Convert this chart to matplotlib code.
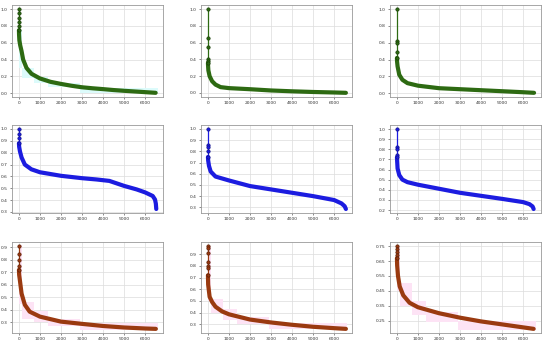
import matplotlib
matplotlib.use("Agg")
import matplotlib.pyplot as plt

# ---------------- data ----------------
# Row 1 (green)
g1_x = [0, 0, 0, 0, 0, 0, 5, 20, 60, 125, 200, 360, 600, 1000, 1500, 2000, 2500, 3000, 3500, 4000, 4500, 5000, 5500, 6000, 6500]
g1_y = [1.0, 0.95, 0.9, 0.85, 0.8, 0.75, 0.7, 0.63, 0.57, 0.50, 0.40, 0.30, 0.23, 0.175, 0.135, 0.11, 0.088, 0.07, 0.058, 0.048, 0.037, 0.028, 0.02, 0.012, 0.004]
g2_x = [0, 0, 0, 0, 0, 0, 5, 20, 80, 200, 360, 600, 1000, 2000, 3000, 4000, 5000, 6000, 6560]
g2_y = [1.0, 0.66, 0.55, 0.41, 0.38, 0.36, 0.33, 0.27, 0.2, 0.14, 0.1, 0.07, 0.058, 0.045, 0.03, 0.02, 0.012, 0.006, 0.002]
g3_x = [0, 0, 0, 0, 0, 5, 30, 110, 260, 500, 1000, 2000, 3000, 4000, 5000, 6000, 6520]
g3_y = [1.0, 0.62, 0.6, 0.49, 0.42, 0.38, 0.32, 0.22, 0.16, 0.12, 0.09, 0.06, 0.048, 0.036, 0.024, 0.012, 0.005]

# Row 2 (blue)
b1_x = [0, 0, 0, 0, 10, 50, 125, 280, 590, 1000, 2000, 3000, 3700, 4300, 5000, 5600, 6000, 6360, 6470, 6510, 6530]
b1_y = [1.0, 0.96, 0.92, 0.88, 0.85, 0.81, 0.76, 0.70, 0.66, 0.635, 0.605, 0.585, 0.574, 0.562, 0.52, 0.49, 0.465, 0.435, 0.405, 0.37, 0.325]
b2_x = [0, 0, 0, 0, 0, 10, 50, 130, 360, 1000, 2000, 3000, 4000, 5000, 6000, 6350, 6500, 6560]
b2_y = [1.0, 0.86, 0.84, 0.8, 0.75, 0.72, 0.67, 0.62, 0.575, 0.54, 0.49, 0.46, 0.43, 0.40, 0.365, 0.335, 0.31, 0.285]
b3_x = [0, 0, 0, 0, 0, 30, 110, 260, 500, 1000, 2000, 3000, 4000, 5000, 6000, 6300, 6450, 6500]
b3_y = [1.0, 0.82, 0.80, 0.74, 0.72, 0.61, 0.545, 0.50, 0.475, 0.45, 0.41, 0.37, 0.34, 0.31, 0.278, 0.258, 0.235, 0.21]

# Row 3 (brown)
r1_x = [0, 0, 0, 0, 0, 10, 50, 125, 280, 510, 1000, 2000, 3000, 4000, 5000, 6000, 6510]
r1_y = [0.91, 0.85, 0.80, 0.75, 0.72, 0.68, 0.63, 0.53, 0.44, 0.385, 0.345, 0.305, 0.287, 0.27, 0.258, 0.25, 0.247]
r2_x = [0, 0, 0, 0, 0, 0, 0, 10, 80, 200, 360, 670, 1000, 2000, 3000, 4000, 5000, 6000, 6560]
r2_y = [0.97, 0.95, 0.91, 0.83, 0.80, 0.78, 0.72, 0.64, 0.535, 0.49, 0.45, 0.41, 0.385, 0.34, 0.315, 0.295, 0.278, 0.266, 0.26]
r3_x = [0, 0, 0, 0, 0, 10, 50, 130, 300, 600, 1000, 2000, 3000, 4000, 5000, 6000, 6500]
r3_y = [0.75, 0.73, 0.71, 0.69, 0.67, 0.62, 0.55, 0.48, 0.42, 0.37, 0.34, 0.30, 0.27, 0.245, 0.225, 0.205, 0.195]

# faint step bands (x edges, lower, upper)
band_x = [0, 150, 700, 1400, 2900, 6600]
g1_lo = [0.30, 0.18, 0.12, 0.07, 0.0]
g1_hi = [0.75, 0.30, 0.19, 0.12, 0.06]
r1_lo = [0.45, 0.33, 0.30, 0.27, 0.24]
r1_hi = [0.92, 0.46, 0.39, 0.33, 0.29]
r2_lo = [0.50, 0.40, 0.34, 0.30, 0.26]
r2_hi = [0.97, 0.52, 0.43, 0.36, 0.31]
r3_lo = [0.45, 0.35, 0.29, 0.24, 0.19]
r3_hi = [0.75, 0.50, 0.38, 0.31, 0.25]

x_ticks = [0, 1000, 2000, 3000, 4000, 5000, 6000]
y_ticks_row1 = [0.0, 0.2, 0.4, 0.6, 0.8, 1.0]
y_ticks_b1 = [0.3, 0.4, 0.5, 0.6, 0.7, 0.8, 0.9, 1.0]
y_ticks_b2 = [0.3, 0.4, 0.5, 0.6, 0.7, 0.8, 0.9, 1.0]
y_ticks_b3 = [0.2, 0.3, 0.4, 0.5, 0.6, 0.7, 0.8, 0.9, 1.0]
y_ticks_r1 = [0.3, 0.4, 0.5, 0.6, 0.7, 0.8, 0.9]
y_ticks_r2 = [0.3, 0.4, 0.5, 0.6, 0.7, 0.8, 0.9]
y_ticks_r3 = [0.25, 0.35, 0.45, 0.55, 0.65, 0.75]

# ---------------- styling ----------------
GREEN, GREEN_E = "#2d6a12", "#163d05"
BLUE, BLUE_E = "#1c1ce0", "#10108a"
BROWN, BROWN_E = "#9a3a10", "#5a1e06"
CYAN = "#dcfbfb"
PINK = "#fde3f5"

fig = plt.figure(figsize=(5.5, 3.45), dpi=100)
W, H = 550.0, 345.0
col_left = [12, 201, 390]
col_w = 151
rows = [(5, 97), (125, 213), (242, 333)]

panels = [
    [(g1_x, g1_y, y_ticks_row1, (g1_lo, g1_hi), CYAN), (g2_x, g2_y, y_ticks_row1, None, CYAN), (g3_x, g3_y, y_ticks_row1, None, CYAN)],
    [(b1_x, b1_y, y_ticks_b1, None, CYAN), (b2_x, b2_y, y_ticks_b2, None, CYAN), (b3_x, b3_y, y_ticks_b3, None, CYAN)],
    [(r1_x, r1_y, y_ticks_r1, (r1_lo, r1_hi), PINK), (r2_x, r2_y, y_ticks_r2, (r2_lo, r2_hi), PINK), (r3_x, r3_y, y_ticks_r3, (r3_lo, r3_hi), PINK)],
]
row_colors = [(GREEN, GREEN_E), (BLUE, BLUE_E), (BROWN, BROWN_E)]

for r, (top, bot) in enumerate(rows):
    c, ce = row_colors[r]
    for k in range(3):
        xs, ys, yt, band, bcol = panels[r][k]
        ax = fig.add_axes([col_left[k] / W, 1 - bot / H, col_w / W, (bot - top) / H])
        if band is not None:
            lo, hi = band
            ax.fill_between(band_x, lo + [lo[-1]], hi + [hi[-1]], step="post",
                            color=bcol, lw=0, zorder=1)
        n0 = max(i for i, x in enumerate(xs) if x == 0)
        # thin connecting line through the sparse leading points
        ax.plot(xs[:n0 + 1], ys[:n0 + 1], "-", color=c, lw=0.9, zorder=3)
        # dense part of the curve
        ax.plot(xs[n0:], ys[n0:], "-", color=c, lw=3.0, solid_capstyle="round",
                solid_joinstyle="round", zorder=3)
        ax.plot(xs[:n0 + 1], ys[:n0 + 1], "o", ms=2.4, mfc=c, mec=ce, mew=0.5, zorder=4)
        ax.set_xticks(x_ticks)
        ax.set_yticks(yt)
        ax.tick_params(labelsize=3.2, length=1.5, width=0.4, pad=1.5, colors="#333333")
        ax.grid(True, color="#dcdcdc", lw=0.5)
        ax.set_axisbelow(True)
        for s in ax.spines.values():
            s.set_color("#999999")
            s.set_linewidth(0.6)
        ymin, ymax = min(ys), max(ys)
        pad = (ymax - ymin) * 0.05
        ax.set_ylim(ymin - pad, ymax + pad)
        ax.set_xlim(-330, 6850)

fig.savefig("out.png", dpi=100)
